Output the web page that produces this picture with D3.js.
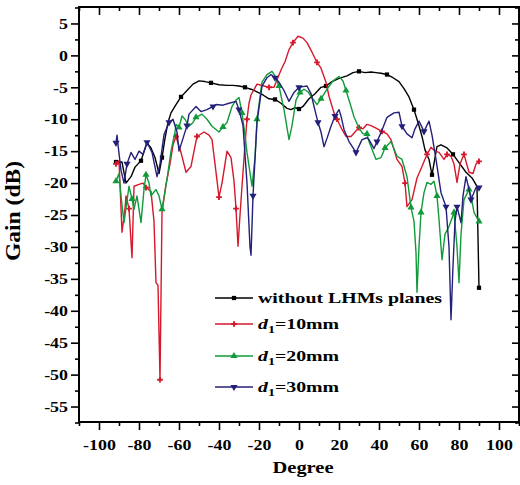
<!DOCTYPE html>
<html>
<head>
<meta charset="utf-8">
<script src="https://cdn.jsdelivr.net/npm/d3@7"></script>
<style>
  body { margin: 0; background: #fff; }
  svg text { font-family: "Liberation Serif", "Times New Roman", serif; font-weight: bold; fill: #000; }
</style>
</head>
<body>
<svg id="chart" width="520" height="485"></svg>
<script>
/*** Data ***/
const xTicks = [-100, -80, -60, -40, -20, 0, 20, 40, 60, 80, 100];
const xMinor = [-110, -90, -70, -50, -30, -10, 10, 30, 50, 70, 90, 110];
const yTicks = [5, 0, -5, -10, -15, -20, -25, -30, -35, -40, -45, -50, -55];
const yMinor = [7.5, 2.5, -2.5, -7.5, -12.5, -17.5, -22.5, -27.5, -32.5, -37.5, -42.5, -47.5, -52.5, -57.5];

// without LHMs planes
const blackDeg = [-91.5, -88.5, -86.5, -84, -82, -79, -76, -74, -72, -70, -68.5, -67, -65.5, -64, -61.5, -59, -56, -53, -50, -47, -44, -40, -36, -33, -30, -27, -24, -21, -18, -15, -12, -9, -6, -4, -2, 0, 2, 5, 8, 11, 13.5, 16, 20, 24, 27, 30, 33, 36, 38.5, 41, 44, 47, 50, 52.5, 55, 57.5, 59.5, 61.5, 63, 65, 66.5, 68, 69, 71, 74, 77, 80, 83.5, 86.5, 89, 90];
const blackGain = [-16.7, -16.7, -20, -19, -17.5, -16.5, -13.7, -14.5, -16, -18.5, -16, -13, -10.5, -9, -7.7, -6.5, -5.5, -4.5, -4, -4.1, -4.3, -4.6, -4.7, -4.7, -4.8, -5, -5.3, -5.7, -6.2, -6.8, -6.9, -7.5, -8.3, -8.5, -8.2, -8.4, -8, -6.8, -6, -5, -4.8, -4.2, -3.6, -3.2, -2.7, -2.5, -2.7, -2.6, -2.7, -2.8, -3, -3.5, -4.1, -5.2, -6.5, -8.5, -10.5, -12.7, -14.8, -16.3, -18.7, -16, -14.3, -14, -14.5, -15.5, -16.8, -18.3, -19.2, -20.5, -36.4];

// d1 = 10mm
const redDeg = [-91.5, -90, -88.5, -87, -86.5, -85, -83.5, -82.5, -80, -78, -76.5, -74, -72.5, -71.5, -70.5, -69.5, -68.5, -66.5, -64.5, -63, -61.5, -59, -56.5, -54, -52.5, -51, -47.5, -45, -43.5, -42, -40, -38.5, -36, -34, -32.5, -31.5, -30.5, -29.5, -28.5, -27, -26, -25, -24, -21, -17.5, -15, -12.5, -9, -7, -5, -3, -0.5, 2, 4, 6.5, 9, 11, 13.5, 15, 17.5, 19, 21.5, 23.5, 26, 28, 30, 32, 34, 36, 38.5, 41.5, 44, 46, 49, 51.5, 53, 54, 56.5, 59, 61.5, 64, 66, 68, 70, 72.5, 74, 76, 77.5, 79, 80.5, 82.5, 85, 87, 88.5, 90];
const redGain = [-17, -16.5, -27.7, -24, -22, -24, -31.7, -20.5, -20.2, -20, -20.7, -21.3, -26, -35.6, -36, -50.8, -24.6, -20.2, -17, -14, -12.7, -15.2, -18.3, -17.4, -15, -12.7, -12, -12.5, -13.2, -17, -22.2, -20, -15, -16, -19.7, -24, -29.9, -25, -20.5, -14, -10, -7.5, -6.2, -4.5, -4.8, -5, -5, -2.3, -1, 0.9, 2, 3, 2.7, 2, 0.5, -1.1, -2, -4.2, -6.4, -9, -10, -11.6, -12.7, -12.7, -12, -11.3, -11.5, -10.8, -11, -11.4, -11.9, -12.3, -13.2, -16.3, -17.4, -20, -23.7, -22.6, -19.2, -17.4, -15.5, -14.4, -15, -15.2, -16.3, -15.5, -15.8, -17, -19.9, -17, -15.5, -18.3, -18.5, -17, -16.6];

// d1 = 20mm
const greenDeg = [-91.5, -90, -89, -87.5, -85, -83.5, -82.5, -81, -79, -77.5, -76.5, -75, -74, -71.5, -70, -68.5, -66, -64, -62, -61.5, -60, -58.5, -57, -55, -53, -51.5, -48.5, -46, -43.5, -40, -38, -36, -33.5, -31.5, -30, -28.5, -27, -26, -23.5, -22, -21, -18.5, -16, -13.5, -12, -10, -7.5, -5, -3.5, -1.5, 0.5, 2.5, 4.5, 6, 9, 11, 14, 17, 20, 22, 23.5, 25.5, 27.5, 30, 32, 34, 35, 36.5, 38.5, 41, 43, 46, 49, 51.5, 54, 56, 57.5, 58.5, 59, 60, 61, 62.5, 64, 66, 67.5, 69, 70, 71.5, 73, 75, 77.5, 79, 80, 81, 82.5, 85, 86, 87.5, 90];
const greenGain = [-19.7, -18.5, -22, -26.2, -20.5, -22.5, -24.1, -22, -26.2, -21, -18.7, -20, -22, -21, -22, -24.1, -19.4, -15, -12, -10.8, -11.3, -9.5, -10, -11.1, -10.5, -9.7, -9.2, -10, -11.1, -12, -11.2, -10.5, -8, -7, -6.6, -9, -12.5, -15.2, -20.5, -16, -10, -4.2, -3, -2.5, -3.2, -4.8, -8.5, -13.2, -11, -7, -5.8, -5.3, -5.7, -6.4, -7.7, -6.8, -5.3, -4, -3.3, -4, -5.5, -7.5, -9.6, -11.4, -12.3, -12.3, -13.5, -14.7, -16.3, -16, -14.5, -13.5, -15.8, -16.3, -19, -23.8, -26, -30.9, -37.1, -30, -24.6, -21.5, -19.9, -20.2, -19.7, -22, -25.7, -32, -28, -26.8, -24.6, -30, -35.6, -28, -22.6, -21, -22, -24.6, -26];

// d1 = 30mm
const blueDeg = [-91.5, -91, -90.5, -89, -87.5, -86, -84, -82, -80, -78, -76, -73.5, -71, -69.5, -67.5, -65, -63, -61, -60, -58, -56, -55, -51.5, -49, -46, -43, -41.5, -38, -35, -31.5, -30, -28, -26, -24.5, -24, -23, -21, -18.5, -16, -14, -12, -10, -7.5, -5, -2.5, 0, 2, 4, 6, 7.5, 9.5, 11, 12.5, 14, 16, 18, 20, 21, 22.5, 25, 28.5, 31.5, 34, 35, 37.5, 39, 41, 44, 47.5, 50, 51.5, 54, 56.5, 58, 60, 62.5, 65, 66.5, 68.5, 71, 73.5, 75, 76, 77, 78, 79, 81, 82, 83.5, 85, 86, 88.5, 90];
const blueGain = [-13.7, -12.5, -14, -18, -20, -17, -15.2, -16.3, -15, -15.5, -13.6, -15.2, -19, -17, -12.4, -10.5, -10, -12, -15, -13, -11, -9.2, -8, -8.8, -8.5, -8, -7.7, -7.8, -7.5, -7.2, -8.5, -11, -20, -30, -31.3, -22, -10.5, -4.8, -3.5, -3, -3.5, -4.2, -5.5, -7.2, -5.8, -5, -4.9, -4.8, -6, -8, -10.5, -12, -14.3, -13, -11.1, -9.5, -8.5, -9.5, -11.6, -13.5, -15.2, -13.2, -12.9, -13.2, -14.6, -13.5, -12.1, -9.7, -9, -8.9, -11.1, -12.3, -12.9, -11.5, -10.3, -11.9, -10.3, -12.5, -16.3, -21.5, -23.7, -30, -41.4, -33, -26, -23.7, -26.2, -22, -19, -21, -22.6, -20.7, -20.7];

const seriesNames = ["without LHMs planes", "10mm", "20mm", "30mm"];
const seriesColors = ["#000000", "#d6182c", "#119a3a", "#23207a"];
const seriesShapes = ["square", "cross", "up", "down"];

/*** Chart ***/
const SX = 1.28; // the reference text is a little stretched sideways
const svg = d3.select("#chart");
const x = d3.scaleLinear().domain([-110, 110]).range([79, 519]);
const y = d3.scaleLinear().domain([-57.5, 7.5]).range([422.5, 7.5]);

const series = [
  {deg: blackDeg, gain: blackGain},
  {deg: redDeg, gain: redGain},
  {deg: greenDeg, gain: greenGain},
  {deg: blueDeg, gain: blueGain}
].map((s, i) => ({
  name: seriesNames[i],
  color: seriesColors[i],
  shape: seriesShapes[i],
  points: s.deg.map((d, j) => [d, s.gain[j]])
}));

svg.append("defs").append("clipPath").attr("id", "plot-clip")
  .append("rect").attr("x", 79).attr("y", 7).attr("width", 440).attr("height", 416);

// axes: ticks only, the frame is drawn afterwards
function tickStyle(g) {
  g.select(".domain").remove();
  g.selectAll(".tick line").attr("stroke", "#000").attr("stroke-width", 1.6);
}
const fmt = d => String(d);

svg.append("g").attr("transform", "translate(0,422)")
  .call(d3.axisBottom(x).tickValues(xTicks).tickSize(8).tickFormat(fmt))
  .call(tickStyle)
  .call(g => g.selectAll(".tick text")
    .attr("y", 0).attr("dy", 0)
    .attr("transform", `translate(0,28) scale(${SX},1)`)
    .attr("font-size", 14).attr("font-family", null).attr("fill", "#000"));
svg.append("g").attr("transform", "translate(0,422)")
  .call(d3.axisBottom(x).tickValues(xMinor).tickSize(4).tickFormat(""))
  .call(tickStyle);
svg.append("g").attr("transform", "translate(0,7)")
  .call(d3.axisBottom(x).tickValues(xTicks).tickSize(8).tickFormat(""))
  .call(tickStyle);
svg.append("g").attr("transform", "translate(0,7)")
  .call(d3.axisBottom(x).tickValues(xMinor).tickSize(4).tickFormat(""))
  .call(tickStyle);

svg.append("g").attr("transform", "translate(79,0)")
  .call(d3.axisLeft(y).tickValues(yTicks).tickSize(8).tickFormat(fmt))
  .call(tickStyle)
  .call(g => g.selectAll(".tick text")
    .attr("x", 0).attr("dy", "0.34em")
    .attr("transform", `translate(-11,0) scale(${SX},1)`)
    .attr("font-size", 14).attr("font-family", null).attr("fill", "#000"));
svg.append("g").attr("transform", "translate(79,0)")
  .call(d3.axisLeft(y).tickValues(yMinor).tickSize(4).tickFormat(""))
  .call(tickStyle);
svg.append("g").attr("transform", "translate(519,0)")
  .call(d3.axisLeft(y).tickValues(yTicks).tickSize(7).tickFormat(""))
  .call(tickStyle);
svg.append("g").attr("transform", "translate(519,0)")
  .call(d3.axisLeft(y).tickValues(yMinor).tickSize(4).tickFormat(""))
  .call(tickStyle);

// axis titles
svg.append("text")
  .attr("transform", `translate(303,473) scale(${SX},1)`)
  .attr("text-anchor", "middle").attr("font-size", 16)
  .text("Degree");
svg.append("text")
  .attr("transform", "translate(20,211) rotate(-90) scale(1,1.2)")
  .attr("text-anchor", "middle").attr("font-size", 17)
  .attr("textLength", 100).attr("lengthAdjust", "spacingAndGlyphs")
  .text("Gain (dB)");

// markers
function markerPath(shape) {
  if (shape == "square") return d3.symbol(d3.symbolSquare, 18)();
  if (shape == "cross") return d3.symbol(d3.symbolCross, 18)();
  return d3.symbol(d3.symbolTriangle, 22)();
}
function addMarker(g, s, px, py) {
  g.append("path")
    .attr("d", markerPath(s.shape))
    .attr("transform", `translate(${px},${py})` + (s.shape == "down" ? " rotate(180)" : ""))
    .attr("fill", s.color);
}

// lines
const line = d3.line().x(d => x(d[0])).y(d => y(d[1]));
const plot = svg.append("g").attr("clip-path", "url(#plot-clip)");
series.forEach(s => {
  plot.append("path")
    .attr("d", line(s.points))
    .attr("fill", "none")
    .attr("stroke", s.color)
    .attr("stroke-width", 1.4)
    .attr("stroke-linejoin", "round");
  s.points.forEach((p, j) => {
    if (j % 5 == 0 || j == s.points.length - 1) addMarker(plot, s, x(p[0]), y(p[1]));
  });
});

// frame
svg.append("rect")
  .attr("x", 79).attr("y", 7).attr("width", 440).attr("height", 415)
  .attr("fill", "none").attr("stroke", "#000").attr("stroke-width", 2);

// legend
const legendRows = [298, 324, 356, 387];
const legend = svg.append("g");
series.forEach((s, i) => {
  let ly = legendRows[i];
  legend.append("line")
    .attr("x1", 215).attr("x2", 253).attr("y1", ly).attr("y2", ly)
    .attr("stroke", s.color).attr("stroke-width", 1.5);
  addMarker(legend, s, 234, ly);
  let t = legend.append("text")
    .attr("transform", `translate(258,${ly + 5}) scale(${SX},1)`)
    .attr("font-size", 15.5);
  if (i == 0) {
    t.text(s.name);
  } else {
    t.append("tspan").attr("font-style", "italic").text("d");
    t.append("tspan").attr("font-size", 11).attr("dy", 4).text("1");
    t.append("tspan").attr("dy", -4).text("=" + s.name);
  }
});
</script>
</body>
</html>
